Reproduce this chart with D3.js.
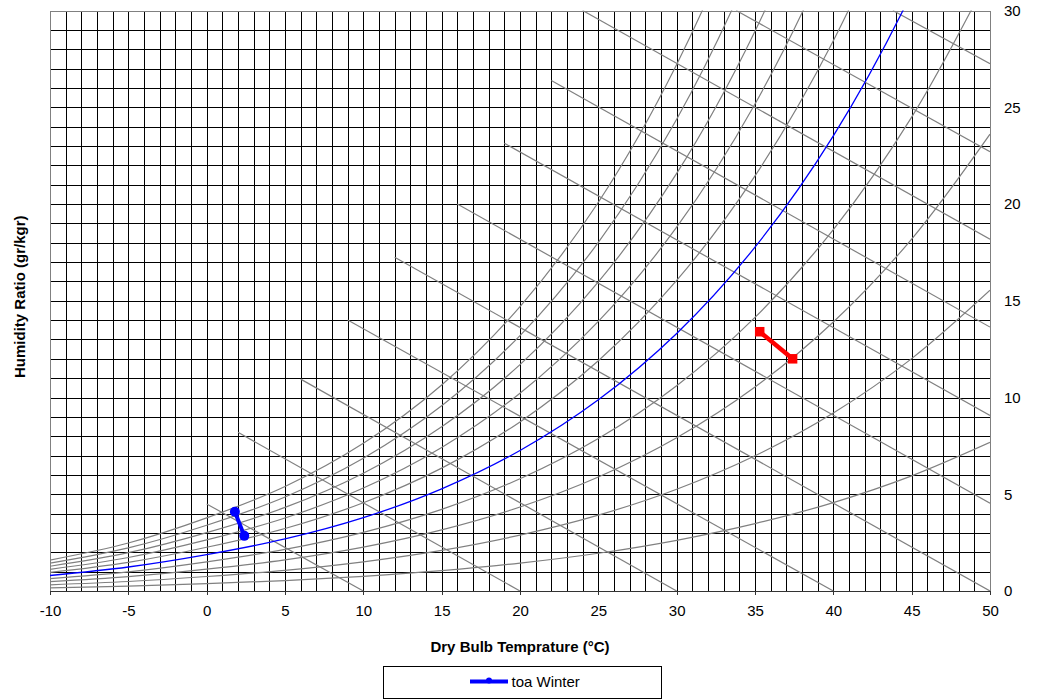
<!DOCTYPE html>
<html>
<head>
<meta charset="utf-8">
<script src="https://cdn.jsdelivr.net/npm/d3@7"></script>
<style>
  html, body { margin: 0; padding: 0; background: #fff; }
  svg { display: block; font-family: "Liberation Sans", Arial, sans-serif; }
</style>
</head>
<body>
<svg id="chart" width="1037" height="699"></svg>
<script>
// ---------------- data ----------------
const xTicks = [-10, -5, 0, 5, 10, 15, 20, 25, 30, 35, 40, 45, 50];
const yTicks = [0, 5, 10, 15, 20, 25, 30];

// relative humidity curves, humidity ratio (g/kg) read at these dry bulb temps
const rhTemps = [-10, -5, 0, 5, 10, 15, 20, 25, 30, 35, 40, 45, 50];
const rh10  = [0.16, 0.25, 0.38, 0.54, 0.76, 1.05, 1.44, 1.95, 2.62, 3.48, 4.57, 5.95, 7.68];
const rh20  = [0.32, 0.49, 0.75, 1.07, 1.51, 2.10, 2.89, 3.92, 5.26, 6.99, 9.20, 12.01, 15.54];
const rh30  = [0.48, 0.74, 1.13, 1.61, 2.27, 3.16, 4.34, 5.89, 7.92, 10.54, 13.90, 18.19, 23.61];
const rh40  = [0.64, 0.99, 1.51, 2.15, 3.03, 4.22, 5.80, 7.88, 10.61, 14.14, 18.68, 24.49, 31.88];
const rh50  = [0.80, 1.24, 1.88, 2.69, 3.79, 5.28, 7.26, 9.88, 13.31, 17.77, 23.52, 30.91, 40.37];
const rh60  = [0.96, 1.48, 2.26, 3.23, 4.56, 6.35, 8.74, 11.90, 16.05, 21.45, 28.44, 37.47, 49.08];
const rh70  = [1.12, 1.73, 2.64, 3.77, 5.32, 7.42, 10.22, 13.93, 18.80, 25.17, 33.44, 44.15];
const rh80  = [1.28, 1.98, 3.02, 4.32, 6.09, 8.49, 11.70, 15.97, 21.58, 28.93, 38.51, 50.98];
const rh90  = [1.44, 2.23, 3.40, 4.86, 6.86, 9.57, 13.20, 18.02, 24.38, 32.73, 43.66];
const rh100 = [1.60, 2.48, 3.78, 5.40, 7.63, 10.65, 14.70, 20.09, 27.21, 36.58, 48.89];

// constant wet-bulb style diagonal lines (visible segments)
const wbStartT = [0, 2, 6, 9, 12, 16, 19, 22, 24, 33.8, 43.8];
const wbStartW = [4.5, 8.2, 10.95, 14.0, 17.25, 20.0, 23.14, 26.38, 30, 30, 30];
const wbEndT   = [10, 20, 30, 40, 50, 50, 50, 50, 50, 50, 50];
const wbEndW   = [0, 0, 0, 0, 0, 4.54, 9.07, 13.64, 18.18, 22.7, 27.25];

// measured series
const winterName = "toa Winter";
const winterT = [1.8, 2.4];
const winterW = [4.1, 2.85];
const summerT = [35.3, 37.4];
const summerW = [13.4, 12.0];

// ---------------- chart ----------------
const svg = d3.select("#chart");
const x = d3.scaleLinear().domain([-10, 50]).range([50, 990]);
const y = d3.scaleLinear().domain([0, 30]).range([591, 10.5]);

svg.append("defs").append("clipPath").attr("id", "plotclip")
  .append("rect").attr("x", 50).attr("y", 10.5).attr("width", 940).attr("height", 580.5);

const crisp = v => Math.round(v) + 0.5;

// grid
const grid = svg.append("g").attr("shape-rendering", "crispEdges");
grid.selectAll("line.v").data(d3.range(-10, 51, 1)).join("line")
  .attr("x1", d => crisp(x(d))).attr("x2", d => crisp(x(d)))
  .attr("y1", y(30)).attr("y2", y(0))
  .attr("stroke", "#000").attr("stroke-width", 1);
grid.selectAll("line.h").data(d3.range(0, 31, 1)).join("line")
  .attr("y1", d => crisp(y(d))).attr("y2", d => crisp(y(d)))
  .attr("x1", x(-10)).attr("x2", x(50))
  .attr("stroke", "#000").attr("stroke-width", 1);

// plot border
svg.append("rect").attr("x", crisp(x(-10))).attr("y", crisp(y(30)))
  .attr("width", Math.round(x(50)) - Math.round(x(-10)))
  .attr("height", Math.round(y(0)) - Math.round(y(30)))
  .attr("fill", "none").attr("stroke", "#808080").attr("shape-rendering", "crispEdges");

const plot = svg.append("g").attr("clip-path", "url(#plotclip)");

// diagonal lines
plot.selectAll("line.wb").data(d3.range(wbStartT.length)).join("line")
  .attr("x1", i => x(wbStartT[i])).attr("y1", i => y(wbStartW[i]))
  .attr("x2", i => x(wbEndT[i])).attr("y2", i => y(wbEndW[i]))
  .attr("stroke", "#808080").attr("stroke-width", 1.2);

// RH curves
const curve = d3.line()
  .x(d => x(d[0])).y(d => y(d[1]))
  .curve(d3.curveCatmullRom.alpha(0.5));
const grayCurves = [rh10, rh20, rh30, rh40, rh60, rh70, rh80, rh90, rh100];
plot.selectAll("path.rh").data(grayCurves).join("path")
  .attr("d", arr => curve(arr.map((w, i) => [rhTemps[i], w])))
  .attr("fill", "none").attr("stroke", "#808080").attr("stroke-width", 1.2);
plot.append("path")
  .attr("d", curve(rh50.map((w, i) => [rhTemps[i], w])))
  .attr("fill", "none").attr("stroke", "#0000ff").attr("stroke-width", 1.3);

// bottom axis
const xAxis = d3.axisBottom(x).tickValues(xTicks).tickFormat(d => String(d))
  .tickSize(4).tickSizeOuter(0).tickPadding(10);
const gx = svg.append("g").attr("transform", `translate(0,${y(0)})`).call(xAxis);
gx.select(".domain").attr("stroke", "#333").attr("shape-rendering", "crispEdges");
gx.selectAll(".tick line").attr("stroke", "#333").attr("shape-rendering", "crispEdges");
gx.selectAll(".tick text").attr("font-size", 15).attr("fill", "#000")
  .attr("font-family", "'Liberation Sans', Arial, sans-serif");

// right axis
const yAxis = d3.axisRight(y).tickValues(yTicks).tickFormat(d => String(d))
  .tickSize(0).tickPadding(14);
const gy = svg.append("g").attr("transform", `translate(${x(50)},0)`).call(yAxis);
gy.select(".domain").remove();
gy.selectAll(".tick text").attr("font-size", 15).attr("fill", "#000")
  .attr("font-family", "'Liberation Sans', Arial, sans-serif");

// series
const sLine = d3.line().x(d => x(d[0])).y(d => y(d[1]));
const winterPts = winterT.map((t, i) => [t, winterW[i]]);
const summerPts = summerT.map((t, i) => [t, summerW[i]]);

svg.append("path").attr("d", sLine(summerPts))
  .attr("fill", "none").attr("stroke", "#ff0000").attr("stroke-width", 4.5);
svg.selectAll("rect.sm").data(summerPts).join("rect")
  .attr("x", d => x(d[0]) - 4.75).attr("y", d => y(d[1]) - 4.75)
  .attr("width", 9.5).attr("height", 9.5).attr("fill", "#ff0000");

svg.append("path").attr("d", sLine(winterPts))
  .attr("fill", "none").attr("stroke", "#0000ff").attr("stroke-width", 4);
svg.selectAll("circle.wm").data(winterPts).join("circle")
  .attr("cx", d => x(d[0])).attr("cy", d => y(d[1])).attr("r", 5)
  .attr("fill", "#0000ff");

// axis titles
svg.append("text").attr("x", (x(-10) + x(50)) / 2).attr("y", 651.5)
  .attr("text-anchor", "middle").attr("font-size", 15).attr("font-weight", "bold")
  .text("Dry Bulb Temprature (°C)");
svg.append("text")
  .attr("transform", `translate(24.5,${(y(0) + y(30)) / 2 - 4}) rotate(-90)`)
  .attr("text-anchor", "middle").attr("font-size", 15).attr("font-weight", "bold")
  .text("Humidity Ratio (gr/kgr)");

// legend
const lg = svg.append("g");
lg.append("rect").attr("x", 383.5).attr("y", 666.5).attr("width", 278).attr("height", 31.5)
  .attr("fill", "#fff").attr("stroke", "#000").attr("shape-rendering", "crispEdges");
lg.append("line").attr("x1", 470).attr("x2", 508).attr("y1", 681.5).attr("y2", 681.5)
  .attr("stroke", "#0000ff").attr("stroke-width", 4);
lg.append("circle").attr("cx", 489).attr("cy", 680.5).attr("r", 3).attr("fill", "#0000ff");
lg.append("text").attr("x", 511.5).attr("y", 686.5).attr("font-size", 15)
  .text(winterName);
</script>
</body>
</html>
